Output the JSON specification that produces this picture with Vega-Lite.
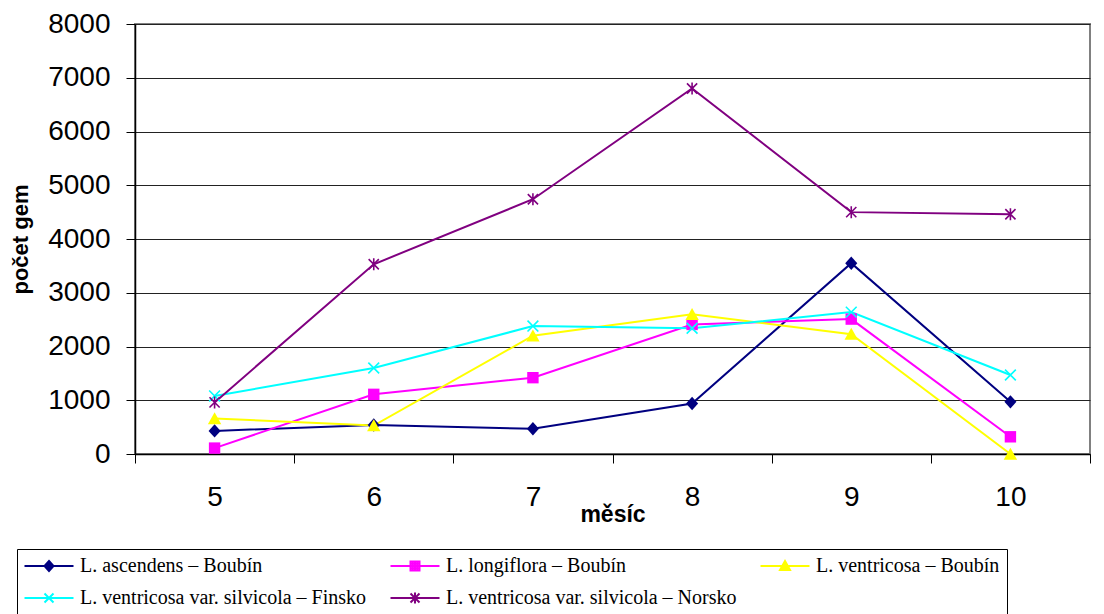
{
  "$schema": "https://vega.github.io/schema/vega-lite/v6.json",
  "width": 955,
  "height": 430,
  "autosize": {"type": "none"},
  "padding": {"left": 135, "top": 24, "right": 14, "bottom": 160},
  "background": "white",
  "config": {
    "view": {"stroke": "#808080", "strokeWidth": 2},
    "font": "Liberation Sans"
  },
  "data": {
    "values": [
      {"month": 5, "series": "L. ascendens – Boubín", "value": 430},
      {"month": 6, "series": "L. ascendens – Boubín", "value": 540},
      {"month": 7, "series": "L. ascendens – Boubín", "value": 470},
      {"month": 8, "series": "L. ascendens – Boubín", "value": 940},
      {"month": 9, "series": "L. ascendens – Boubín", "value": 3550},
      {"month": 10, "series": "L. ascendens – Boubín", "value": 970},
      {"month": 5, "series": "L. longiflora – Boubín", "value": 110},
      {"month": 6, "series": "L. longiflora – Boubín", "value": 1110},
      {"month": 7, "series": "L. longiflora – Boubín", "value": 1420},
      {"month": 8, "series": "L. longiflora – Boubín", "value": 2410},
      {"month": 9, "series": "L. longiflora – Boubín", "value": 2510},
      {"month": 10, "series": "L. longiflora – Boubín", "value": 320},
      {"month": 5, "series": "L. ventricosa – Boubín", "value": 660},
      {"month": 6, "series": "L. ventricosa – Boubín", "value": 530},
      {"month": 7, "series": "L. ventricosa – Boubín", "value": 2200},
      {"month": 8, "series": "L. ventricosa – Boubín", "value": 2600},
      {"month": 9, "series": "L. ventricosa – Boubín", "value": 2230},
      {"month": 10, "series": "L. ventricosa – Boubín", "value": 0},
      {"month": 5, "series": "L. ventricosa var. silvicola – Finsko", "value": 1080},
      {"month": 6, "series": "L. ventricosa var. silvicola – Finsko", "value": 1600},
      {"month": 7, "series": "L. ventricosa var. silvicola – Finsko", "value": 2380},
      {"month": 8, "series": "L. ventricosa var. silvicola – Finsko", "value": 2340},
      {"month": 9, "series": "L. ventricosa var. silvicola – Finsko", "value": 2640},
      {"month": 10, "series": "L. ventricosa var. silvicola – Finsko", "value": 1470},
      {"month": 5, "series": "L. ventricosa var. silvicola – Norsko", "value": 960},
      {"month": 6, "series": "L. ventricosa var. silvicola – Norsko", "value": 3530},
      {"month": 7, "series": "L. ventricosa var. silvicola – Norsko", "value": 4740},
      {"month": 8, "series": "L. ventricosa var. silvicola – Norsko", "value": 6800},
      {"month": 9, "series": "L. ventricosa var. silvicola – Norsko", "value": 4500},
      {"month": 10, "series": "L. ventricosa var. silvicola – Norsko", "value": 4460}
    ]
  },
  "encoding": {
    "x": {
      "field": "month",
      "type": "ordinal",
      "scale": {"type": "band", "paddingInner": 0, "paddingOuter": 0},
      "axis": {
        "title": "měsíc",
        "titleFont": "Liberation Sans",
        "titleFontSize": 23,
        "titleFontWeight": "bold",
        "titleColor": "black",
        "titleX": 477.5,
        "titleY": 67,
        "titleBaseline": "alphabetic",
        "labelAngle": 0,
        "labelFont": "Liberation Sans",
        "labelFontSize": 28,
        "labelColor": "black",
        "labelPadding": 20,
        "tickBand": "extent",
        "tickSize": 9,
        "tickColor": "#000000",
        "domainColor": "#000000",
        "domainWidth": 1.5,
        "grid": false
      }
    },
    "y": {
      "field": "value",
      "type": "quantitative",
      "scale": {"domain": [0, 8000], "nice": false},
      "axis": {
        "title": "počet gem",
        "titleFont": "Liberation Sans",
        "titleFontSize": 22,
        "titleFontWeight": "bold",
        "titleColor": "black",
        "titleX": -108,
        "titleY": 215,
        "titleBaseline": "alphabetic",
        "values": [0, 1000, 2000, 3000, 4000, 5000, 6000, 7000, 8000],
        "format": "d",
        "labelFont": "Liberation Sans",
        "labelFontSize": 28,
        "labelColor": "black",
        "labelPadding": 16,
        "tickSize": 9,
        "tickColor": "#000000",
        "domainColor": "#000000",
        "domainWidth": 1.5,
        "grid": true,
        "gridColor": "#222222",
        "gridWidth": 1
      }
    }
  },
  "layer": [
    {
      "mark": {"type": "point", "filled": true, "opacity": 0, "strokeWidth": 2},
      "encoding": {
        "color": {
          "field": "series",
          "type": "nominal",
          "scale": {
            "domain": ["L. ascendens – Boubín", "L. longiflora – Boubín", "L. ventricosa – Boubín", "L. ventricosa var. silvicola – Finsko", "L. ventricosa var. silvicola – Norsko"],
            "range": ["#000080", "#FF00FF", "#FFFF00", "#00FFFF", "#800080"]
          },
          "legend": {
            "title": null,
            "orient": "none",
            "legendX": -118,
            "legendY": 525,
            "direction": "horizontal",
            "columns": 3,
            "columnPadding": 19,
            "rowPadding": 12,
            "padding": 7,
            "strokeColor": "#000000",
            "fillColor": "#FFFFFF",
            "symbolSize": 100,
            "symbolStrokeWidth": 2,
            "symbolOpacity": 1,
            "symbolOffset": 0,
            "labelOffset": 36,
            "labelFont": "Liberation Serif",
            "labelFontSize": 20,
            "labelColor": "black",
            "labelLimit": 400
          }
        },
        "stroke": {
          "field": "series",
          "type": "nominal",
          "scale": {
            "domain": ["L. ascendens – Boubín", "L. longiflora – Boubín", "L. ventricosa – Boubín", "L. ventricosa var. silvicola – Finsko", "L. ventricosa var. silvicola – Norsko"],
            "range": ["#000080", "#FF00FF", "#FFFF00", "#00FFFF", "#800080"]
          }
        },
        "shape": {
          "field": "series",
          "type": "nominal",
          "scale": {
            "domain": ["L. ascendens – Boubín", "L. longiflora – Boubín", "L. ventricosa – Boubín", "L. ventricosa var. silvicola – Finsko", "L. ventricosa var. silvicola – Norsko"],
            "range": [
              "M-1.9,0L7.9,0M3,-1L3.9,0L3,1L2.1,0ZM3,-0.5L3.45,0L3,0.5L2.55,0ZM3,-1L3,1",
              "M-1.9,0L7.9,0M2.1,-0.9L3.9,-0.9L3.9,0.9L2.1,0.9ZM2.1,-0.45L3.9,-0.45M2.1,0.45L3.9,0.45M2.55,-0.9L2.55,0.9M3,-0.9L3,0.9M3.45,-0.9L3.45,0.9",
              "M-1.9,0L7.9,0M3,-1L4,0.8L2,0.8ZM2.72,-0.5L3.28,-0.5M2.22,0.4L3.78,0.4M3,-1L3,0.8M2.6,-0.2L2.6,0.8M3.4,-0.2L3.4,0.8",
              "M-1.9,0L7.9,0M2.1,-0.9L3.9,0.9M3.9,-0.9L2.1,0.9",
              "M-1.9,0L7.9,0M2.1,-0.9L3.9,0.9M3.9,-0.9L2.1,0.9M3,-1.1L3,1.1"
            ]
          }
        }
      }
    },
    {
      "mark": {"type": "line", "strokeWidth": 2},
      "encoding": {
        "color": {"field": "series", "type": "nominal", "legend": null}
      }
    },
    {
      "transform": [{"filter": {"field": "series", "equal": "L. ascendens – Boubín"}}],
      "mark": {"type": "point", "filled": true, "size": 180, "opacity": 1, "shape": "M0,-1L0.9,0L0,1L-0.9,0Z"},
      "encoding": {"color": {"field": "series", "type": "nominal", "legend": null}}
    },
    {
      "transform": [{"filter": {"field": "series", "equal": "L. longiflora – Boubín"}}],
      "mark": {"type": "point", "filled": true, "size": 180, "opacity": 1, "shape": "M-0.85,-0.85L0.85,-0.85L0.85,0.85L-0.85,0.85Z"},
      "encoding": {"color": {"field": "series", "type": "nominal", "legend": null}}
    },
    {
      "transform": [{"filter": {"field": "series", "equal": "L. ventricosa – Boubín"}}],
      "mark": {"type": "point", "filled": true, "size": 180, "opacity": 1, "shape": "M0,-0.95L1,0.85L-1,0.85Z"},
      "encoding": {"color": {"field": "series", "type": "nominal", "legend": null}}
    },
    {
      "transform": [{"filter": {"field": "series", "equal": "L. ventricosa var. silvicola – Finsko"}}],
      "mark": {"type": "point", "filled": false, "size": 144, "strokeWidth": 1.6, "opacity": 1, "shape": "M-0.9,-0.9L0.9,0.9M0.9,-0.9L-0.9,0.9"},
      "encoding": {"color": {"field": "series", "type": "nominal", "legend": null}}
    },
    {
      "transform": [{"filter": {"field": "series", "equal": "L. ventricosa var. silvicola – Norsko"}}],
      "mark": {"type": "point", "filled": false, "size": 144, "strokeWidth": 1.6, "opacity": 1, "shape": "M-0.85,-0.85L0.85,0.85M0.85,-0.85L-0.85,0.85M0,-1L0,1"},
      "encoding": {"color": {"field": "series", "type": "nominal", "legend": null}}
    }
  ]
}
